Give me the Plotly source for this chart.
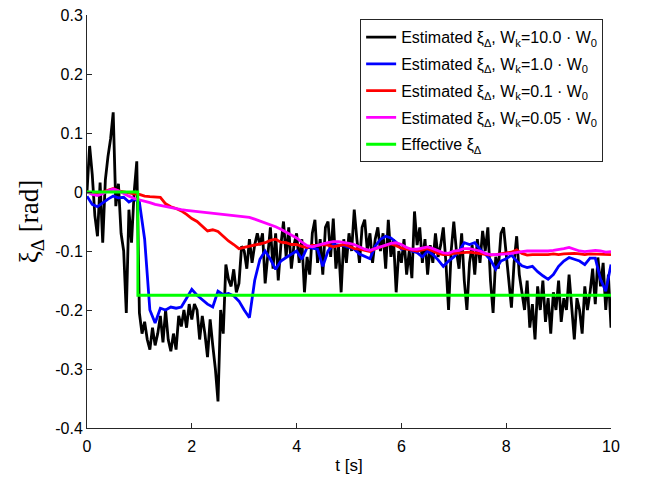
import numpy as np
import plotly.graph_objects as go

# ---- data -------------------------------------------------------------
# fast estimator (W_k = 10.0 W_0), sampled every 0.05 s
t_black = np.round(np.arange(0, 10.0001, 0.05), 2)
xi_black = [
    0.0, 0.078, 0.03, -0.04, -0.075, 0.016, -0.086, 0.02, 0.06, 0.09,
    0.135, -0.024, 0.014, -0.07, -0.1, -0.205, -0.03, -0.086, 0.0, 0.052,
    -0.205, -0.24, -0.22, -0.25, -0.267, -0.23, -0.26, -0.24, -0.21, -0.255,
    -0.2, -0.25, -0.27, -0.24, -0.267, -0.21, -0.228, -0.2, -0.23, -0.19,
    -0.216, -0.19, -0.2, -0.25, -0.21, -0.24, -0.28, -0.216, -0.26, -0.3,
    -0.355, -0.2, -0.24, -0.123, -0.148, -0.16, -0.131, -0.17, -0.155, -0.092,
    -0.1, -0.13, -0.08, -0.12, -0.09, -0.07, -0.09, -0.07, -0.155, -0.1,
    -0.06, -0.13, -0.07, -0.15, -0.09, -0.05, -0.11, -0.06, -0.13, -0.09,
    -0.07, -0.12, -0.08, -0.17, -0.11, -0.14, -0.07, -0.047, -0.12, -0.08,
    -0.14, -0.06, -0.05, -0.11, -0.045, -0.13, -0.09, -0.17, -0.08, -0.12,
    -0.07, -0.1, -0.03, -0.08, -0.12, -0.06, -0.047, -0.1, -0.07, -0.12,
    -0.08, -0.06, -0.1, -0.07, -0.13, -0.047, -0.11, -0.08, -0.17, -0.1,
    -0.12, -0.08, -0.14, -0.1, -0.146, -0.033, -0.09, -0.06, -0.12, -0.08,
    -0.14, -0.09, -0.12, -0.07, -0.11, -0.09, -0.06, -0.12, -0.2, -0.1,
    -0.05, -0.1, -0.13, -0.07, -0.15, -0.2, -0.12, -0.09, -0.14, -0.08,
    -0.12, -0.066, -0.1, -0.06, -0.15, -0.205, -0.11, -0.13, -0.07, -0.06,
    -0.1, -0.15, -0.196, -0.12, -0.075, -0.14, -0.17, -0.2, -0.15, -0.23,
    -0.19, -0.25, -0.16, -0.2, -0.15, -0.22, -0.18, -0.24, -0.17, -0.2,
    -0.15, -0.22, -0.18, -0.2, -0.14, -0.19, -0.25, -0.18, -0.2, -0.24,
    -0.16, -0.2, -0.17, -0.13, -0.19, -0.111, -0.16, -0.12, -0.2, -0.14,
    -0.23,
]

# slower estimators, sampled every 0.1 s
t_slow = np.round(np.arange(0, 10.0001, 0.1), 1)
xi_blue = [
    -0.007, -0.021, -0.025, -0.018, -0.012, -0.007, -0.01, -0.009, -0.017, -0.012,
    -0.017, -0.08, -0.2, -0.222, -0.197, -0.2, -0.195, -0.197, -0.195, -0.18,
    -0.165, -0.175, -0.183, -0.19, -0.195, -0.168, -0.174, -0.172, -0.176, -0.185,
    -0.2, -0.213, -0.15, -0.114, -0.1, -0.114, -0.131, -0.117, -0.111, -0.106,
    -0.1, -0.114, -0.094, -0.095, -0.097, -0.126, -0.1, -0.089, -0.09, -0.091,
    -0.094, -0.097, -0.105, -0.109, -0.113, -0.092, -0.08, -0.075, -0.078, -0.085,
    -0.097, -0.095, -0.1, -0.103, -0.11, -0.1, -0.106, -0.115, -0.126, -0.117,
    -0.11, -0.1, -0.086, -0.089, -0.086, -0.097, -0.105, -0.115, -0.131, -0.117,
    -0.113, -0.107, -0.117, -0.125, -0.128, -0.126, -0.135, -0.142, -0.148, -0.14,
    -0.126, -0.117, -0.111, -0.114, -0.117, -0.123, -0.112, -0.112, -0.148, -0.168,
    -0.123,
]
xi_red = [
    0.0, -0.002, -0.003, 0.0, 0.003, 0.006, 0.002, 0.0, -0.002, -0.003,
    -0.004, -0.007, -0.008, -0.008, -0.009, -0.02, -0.025, -0.028, -0.032, -0.038,
    -0.045, -0.05, -0.058, -0.066, -0.064, -0.067, -0.075, -0.083, -0.089, -0.096,
    -0.094, -0.092, -0.09, -0.088, -0.086, -0.082, -0.08, -0.085, -0.086, -0.089,
    -0.089, -0.092, -0.094, -0.09, -0.091, -0.089, -0.09, -0.093, -0.091, -0.089,
    -0.092, -0.096, -0.097, -0.099, -0.101, -0.096, -0.093, -0.09, -0.088, -0.091,
    -0.095, -0.097, -0.099, -0.1, -0.098, -0.096, -0.1, -0.104, -0.106, -0.106,
    -0.104, -0.103, -0.103, -0.102, -0.103, -0.104, -0.106, -0.107, -0.106, -0.104,
    -0.103, -0.102, -0.098, -0.104, -0.107, -0.106, -0.106, -0.107, -0.106, -0.105,
    -0.106, -0.105, -0.104, -0.104, -0.105, -0.106, -0.105, -0.105, -0.106, -0.105,
    -0.106,
]
xi_magenta = [
    0.0, -0.004, -0.006, -0.003, 0.002, 0.005, 0.002, -0.003, -0.007, -0.011,
    -0.013, -0.016, -0.018, -0.021, -0.023, -0.025, -0.027, -0.028, -0.03, -0.031,
    -0.032, -0.033, -0.034, -0.035, -0.036, -0.036, -0.037, -0.038, -0.039, -0.04,
    -0.041, -0.043, -0.046, -0.049, -0.052, -0.056, -0.059, -0.063, -0.068, -0.073,
    -0.078, -0.085, -0.091, -0.093, -0.09, -0.088, -0.086, -0.084, -0.084, -0.085,
    -0.087, -0.089, -0.093, -0.097, -0.099, -0.096, -0.092, -0.089, -0.087, -0.086,
    -0.089, -0.094, -0.097, -0.097, -0.095, -0.093, -0.096, -0.1, -0.103, -0.104,
    -0.1, -0.099, -0.096, -0.096, -0.098, -0.1, -0.104, -0.106, -0.106, -0.106,
    -0.105, -0.104, -0.102, -0.101, -0.1, -0.1, -0.101, -0.101, -0.1, -0.099,
    -0.098, -0.096, -0.094, -0.097, -0.1, -0.101, -0.1, -0.099, -0.1, -0.102,
    -0.101,
]

# effective value: step at t = 0.97 s
t_green = [0.0, 0.97, 0.97, 10.0]
xi_green = [0.0, 0.0, -0.175, -0.175]

series_names = [
    "Estimated ξ<sub>Δ</sub>, W<sub>k</sub>=10.0 · W<sub>0</sub>",
    "Estimated ξ<sub>Δ</sub>, W<sub>k</sub>=1.0 · W<sub>0</sub>",
    "Estimated ξ<sub>Δ</sub>, W<sub>k</sub>=0.1 · W<sub>0</sub>",
    "Estimated ξ<sub>Δ</sub>, W<sub>k</sub>=0.05 · W<sub>0</sub>",
    "Effective ξ<sub>Δ</sub>",
]

x_ticks = [0, 2, 4, 6, 8, 10]
y_ticks = [-0.4, -0.3, -0.2, -0.1, 0.0, 0.1, 0.2, 0.3]
y_ticklabels = ["-0.4", "-0.3", "-0.2", "-0.1", "0", "0.1", "0.2", "0.3"]

# ---- figure -----------------------------------------------------------
colors = ["#000000", "#0000FF", "#FF0000", "#FF00FF", "#00FF00"]
xs = [t_black, t_slow, t_slow, t_slow, t_green]
ys = [xi_black, xi_blue, xi_red, xi_magenta, xi_green]

fig = go.Figure()
for i, (x, y, c, n) in enumerate(zip(xs, ys, colors, series_names)):
    fig.add_trace(go.Scatter(
        x=x, y=y, mode="lines", name=n, legendgroup=f"g{i}",
        line=dict(color=c, width=2.8),
    ))

sans = "Liberation Sans, Arial"
axis_common = dict(
    showline=True, linecolor="#262626", linewidth=1,
    ticks="inside", ticklen=5, tickcolor="#262626",
    showgrid=False, zeroline=False, mirror=False, automargin=False,
    tickfont=dict(family=sans, size=16, color="black"),
)

fig.update_layout(
    width=647, height=479,
    margin=dict(l=87, r=36, t=15, b=51),
    paper_bgcolor="white", plot_bgcolor="white",
    xaxis=dict(range=[0, 10], tickvals=x_ticks, ticklabelstandoff=4, **axis_common,
               title=dict(text="t [s]", standoff=4,
                          font=dict(family=sans, size=17, color="black"))),
    yaxis=dict(range=[-0.4, 0.3], tickvals=y_ticks, ticktext=y_ticklabels, **axis_common,
               title=dict(text="ξ<sub>Δ</sub> [rad]", standoff=8,
                          font=dict(family="Liberation Serif, DejaVu Serif", size=27, color="black"))),
    legend=dict(
        x=0.985, y=0.99, xanchor="right", yanchor="top",
        bgcolor="white", bordercolor="#262626", borderwidth=1,
        font=dict(family=sans, size=16, color="black"),
        tracegroupgap=3,
    ),
    showlegend=True,
)

fig.write_html("out.html")
